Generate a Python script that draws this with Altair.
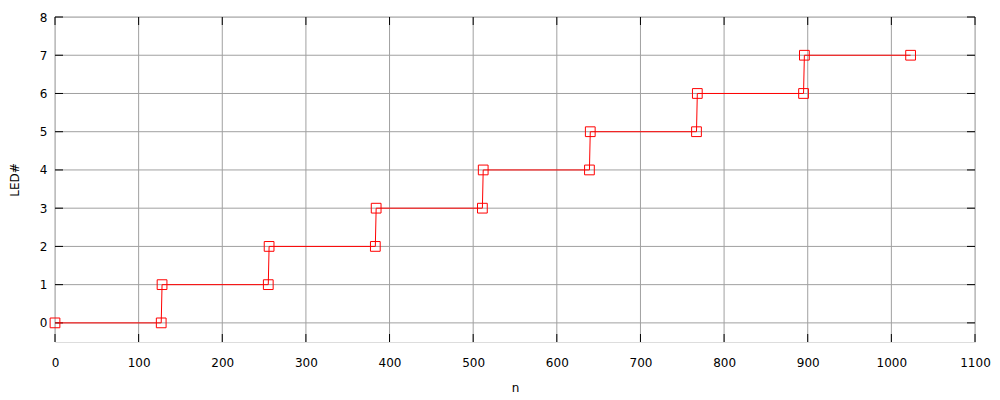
import altair as alt
import pandas as pd

n_vals = [0, 127, 128, 255, 256, 383, 384, 511, 512, 639, 640, 767, 768, 895, 896, 1023]
led_vals = [0, 0, 1, 1, 2, 2, 3, 3, 4, 4, 5, 5, 6, 6, 7, 7]
x_ticks = [0, 100, 200, 300, 400, 500, 600, 700, 800, 900, 1000, 1100]
y_ticks = [0, 1, 2, 3, 4, 5, 6, 7, 8]

df = pd.DataFrame({"n": n_vals, "led": led_vals})
xt = pd.DataFrame({"t": x_ticks})
yt = pd.DataFrame({"t": y_ticks})

W, H = 920, 325
FONT = "DejaVu Sans"

xscale = alt.Scale(domain=[0, 1100], nice=False, zero=False)
yscale = alt.Scale(domain=[-0.5, 8], nice=False, zero=False)

xaxis = alt.Axis(values=x_ticks, format="d", title="n", grid=False,
                 ticks=False, domain=False, labelPadding=15, labelFontSize=12, labelFont=FONT,
                 labelColor="black", titleFont=FONT, titleFontSize=12, titleFontWeight="normal",
                 titleColor="black", titlePadding=14, labelFlush=False)
yaxis = alt.Axis(values=y_ticks, format="d", title="LED#", grid=False,
                 ticks=False, domain=False, labelPadding=8, labelFontSize=12, labelFont=FONT,
                 labelColor="black", titleFont=FONT, titleFontSize=12, titleFontWeight="normal",
                 titleColor="black", titlePadding=18, labelFlush=False)

grid_col = "#a0a0a0"
gx = alt.Chart(xt).mark_rule(color=grid_col, strokeWidth=1).encode(
    x=alt.X("t:Q", scale=xscale, axis=xaxis), y=alt.value(0), y2=alt.value(H))
gy = alt.Chart(yt).mark_rule(color=grid_col, strokeWidth=1).encode(
    y=alt.Y("t:Q", scale=yscale, axis=yaxis), x=alt.value(0), x2=alt.value(W))

line = alt.Chart(df).mark_line(color="#ff0000", strokeWidth=1).encode(
    x=alt.X("n:Q", scale=xscale),
    y=alt.Y("led:Q", scale=yscale),
)
pts = alt.Chart(df).mark_point(shape="square", color="#ff0000", filled=False, size=95,
                               strokeWidth=1, opacity=1).encode(
    x=alt.X("n:Q", scale=xscale),
    y=alt.Y("led:Q", scale=yscale),
)

tick_col = "#000000"
bx = alt.Chart(xt).mark_rule(color=tick_col, strokeWidth=1).encode(
    x=alt.X("t:Q", scale=xscale), y=alt.value(H - 8), y2=alt.value(H))
tx = alt.Chart(xt).mark_rule(color=tick_col, strokeWidth=1).encode(
    x=alt.X("t:Q", scale=xscale), y=alt.value(0), y2=alt.value(8))
ly = alt.Chart(yt).mark_rule(color=tick_col, strokeWidth=1).encode(
    y=alt.Y("t:Q", scale=yscale), x=alt.value(0), x2=alt.value(8))
ry = alt.Chart(yt).mark_rule(color=tick_col, strokeWidth=1).encode(
    y=alt.Y("t:Q", scale=yscale), x=alt.value(W - 8), x2=alt.value(W))

chart = alt.layer(gx, gy, bx, tx, ly, ry, line, pts).properties(
    width=W, height=H,
    autosize=alt.AutoSizeParams(type="none"),
    padding={"left": 47, "top": 9, "right": 16, "bottom": 57},
).configure_view(stroke="black", strokeWidth=1.5).configure(background="white")

chart.save("out.html", embed_options={"renderer": "svg", "actions": False})
